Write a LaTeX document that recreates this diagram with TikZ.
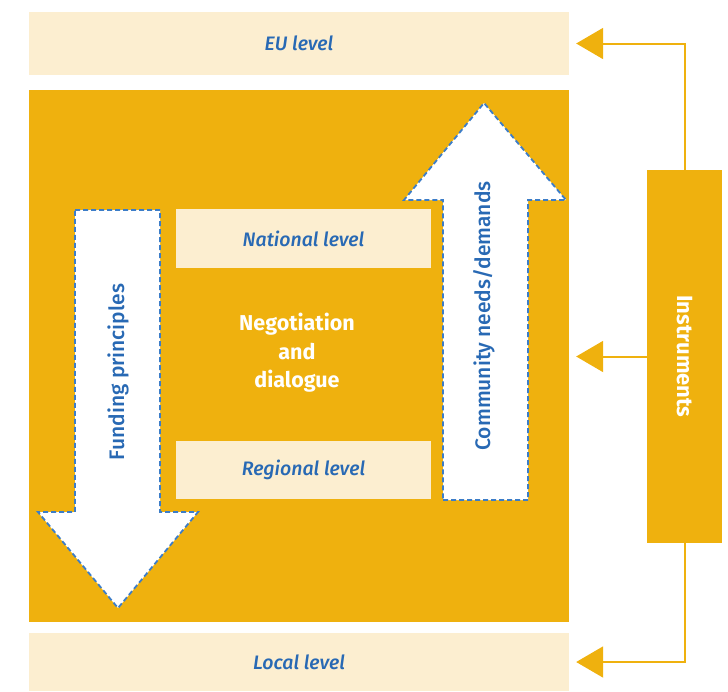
\documentclass[tikz,border=0pt]{standalone}
\usepackage{fontspec}
\setmainfont{Fira Sans}
\newfontfamily\medfont{Fira Sans Medium}
\usetikzlibrary{arrows.meta}
\definecolor{gold}{RGB}{239,177,14}
\definecolor{cream}{RGB}{252,238,208}
\definecolor{tblue}{RGB}{40,105,180}
\definecolor{dblue}{RGB}{60,125,200}
\tikzset{
  box/.style={rectangle, inner sep=0pt, anchor=center},
  levelbox/.style={box, fill=cream, text=tblue, font=\medfont\fontsize{19.5}{22}\selectfont\itshape},
  bigarrow/.style={fill=white, draw=dblue, line width=1.8pt, dash pattern=on 5pt off 3pt},
  arrowtext/.style={text=tblue, font=\medfont\fontsize{21}{24}\selectfont, rotate=90},
  conn/.style={draw=gold, line width=2pt, -{Triangle[length=27pt,width=31pt]}},
}
\begin{document}
\begin{tikzpicture}[x=1pt,y=-1pt]
\useasboundingbox (0,0) rectangle (728,691);
% levels
\node[levelbox, minimum width=540, minimum height=63] (eu) at (299,43.5) {EU level};
\node[box, fill=gold, minimum width=540, minimum height=532] (big) at (299,356) {};
\node[levelbox, minimum width=540, minimum height=58] (local) at (299,662) {Local level};
\node[levelbox, minimum width=255, minimum height=59] (national) at (303.5,238.5) {National level};
\node[levelbox, minimum width=255, minimum height=58] (regional) at (303.5,470) {Regional level};
\node[text=white, align=center, font=\fontsize{21.5}{28.5}\selectfont\bfseries] (nego) at (297,353) {Negotiation\\and\\dialogue};
% big arrows
\draw[bigarrow] (75,210) -- (160,210) -- (160,512) -- (198,512) -- (118,608) -- (38,512) -- (75,512) -- cycle;
\node[arrowtext] (fund) at (118,372) {Funding principles};
\draw[bigarrow] (443,500) -- (528,500) -- (528,200) -- (566,200) -- (484,103) -- (404,200) -- (443,200) -- cycle;
\node[arrowtext] (comm) at (484,316) {Community needs/demands};
% instruments
\node[box, fill=gold, minimum width=75, minimum height=373, text=white, font=\fontsize{22}{25}\selectfont\bfseries] (inst) at (684.5,356.5) {\raisebox{0pt}{\rotatebox{-90}{Instruments}}};
\draw[conn] (inst.north) |- ([xshift=7pt]eu.east);
\draw[conn] (inst.west) -- ([xshift=7pt]big.east |- inst.west);
\draw[conn] (inst.south) |- ([xshift=7pt]local.east);
\end{tikzpicture}
\end{document}
